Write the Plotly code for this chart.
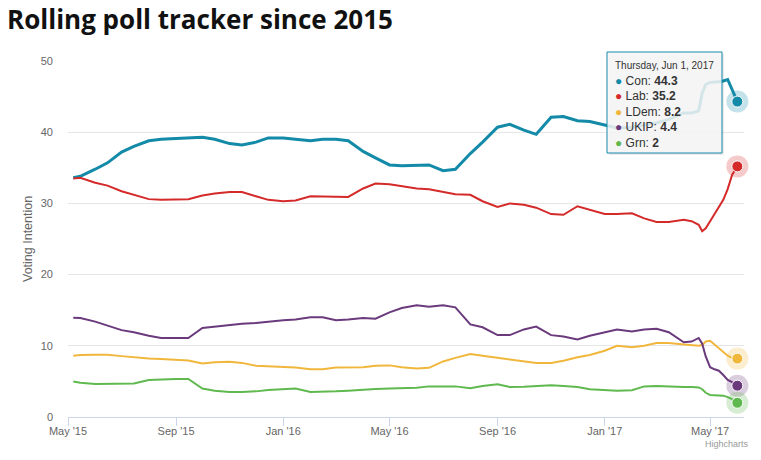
import plotly.graph_objects as go
from datetime import datetime

# ---------------- data ----------------
dates = [
    "2015-05-07", "2015-05-15", "2015-06-01", "2015-06-15", "2015-07-01", "2015-07-15",
    "2015-08-01", "2015-08-15", "2015-09-01", "2015-09-15",
    "2015-10-01", "2015-10-15", "2015-11-01", "2015-11-15", "2015-12-01", "2015-12-15",
    "2016-01-01", "2016-01-15", "2016-02-01", "2016-02-15", "2016-03-01", "2016-03-15",
    "2016-04-01", "2016-04-15",
    "2016-05-01", "2016-05-15", "2016-06-01", "2016-06-15", "2016-07-01", "2016-07-15",
    "2016-08-01", "2016-08-15",
    "2016-09-01", "2016-09-15", "2016-10-01", "2016-10-15", "2016-11-01", "2016-11-15",
    "2016-12-01", "2016-12-15",
    "2017-01-01", "2017-01-15", "2017-02-01", "2017-02-15", "2017-03-01", "2017-03-15",
    "2017-04-01",
    "2017-04-10", "2017-04-18", "2017-04-22", "2017-04-26",
    "2017-05-01", "2017-05-06", "2017-05-11", "2017-05-16", "2017-05-21", "2017-05-26", "2017-06-01",
]

con = [33.6, 33.8, 34.8, 35.7, 37.2, 38.0, 38.8, 39.0, 39.1, 39.2,
       39.3, 39.0, 38.4, 38.2, 38.6, 39.2,
       39.2, 39.0, 38.8, 39.0, 39.0, 38.8,
       37.3, 36.4,
       35.4, 35.3, 35.3, 35.4, 34.6, 34.8,
       37.0, 38.6,
       40.7, 41.1, 40.3, 39.7, 42.1, 42.2,
       41.6, 41.5,
       41.0, 40.6, 40.7, 41.0, 41.3, 41.8,
       42.7,
       42.7, 43.0, 45.5, 46.7,
       47.0, 47.0, 47.1, 47.2, 47.4, 46.0, 44.3]

lab = [33.5, 33.6, 32.9, 32.5, 31.7, 31.2, 30.6, 30.5, 30.5, 30.6,
       31.1, 31.4, 31.6, 31.6, 31.0, 30.5,
       30.3, 30.4, 31.0, 31.0, 30.9, 30.9,
       32.1, 32.8,
       32.7, 32.4, 32.1, 32.0, 31.6, 31.3,
       31.2, 30.3,
       29.5, 30.0, 29.8, 29.4, 28.5, 28.4,
       29.6, 29.1,
       28.5, 28.5, 28.6, 27.9, 27.4, 27.4,
       27.7,
       27.5, 27.0, 26.1, 26.5,
       27.5, 28.5, 29.5, 30.5, 32.0, 34.0, 35.2]

ldem = [8.6, 8.7, 8.75, 8.75, 8.55, 8.35, 8.2, 8.15, 8.0, 7.95,
        7.5, 7.7, 7.75, 7.6, 7.2, 7.1,
        7.0, 6.95, 6.7, 6.7, 6.95, 6.98,
        7.0, 7.2,
        7.25, 7.0, 6.8, 6.9, 7.8, 8.3,
        8.85, 8.6,
        8.3, 8.1, 7.8, 7.6, 7.6, 7.9,
        8.4, 8.7,
        9.3, 10.0, 9.8, 10.0, 10.4, 10.4,
        10.2,
        10.1, 10.0, 10.1, 10.6,
        10.7, 10.2, 9.6, 9.1, 8.6, 8.3, 8.2]

ukip = [13.95, 13.9, 13.4, 12.8, 12.2, 11.9, 11.4, 11.1, 11.05, 11.1,
        12.5, 12.7, 12.9, 13.1, 13.2, 13.4,
        13.6, 13.7, 14.0, 14.0, 13.6, 13.7,
        13.9, 13.8,
        14.7, 15.3, 15.7, 15.5, 15.7, 15.4,
        13.0, 12.6,
        11.5, 11.5, 12.3, 12.7, 11.5, 11.3,
        10.9, 11.4,
        11.9, 12.3, 12.0, 12.3, 12.4, 11.9,
        10.5,
        10.6, 11.1, 10.3, 8.5,
        7.0, 6.7, 6.5, 5.9, 5.2, 4.9, 4.4]

grn = [5.0, 4.8, 4.65, 4.65, 4.65, 4.7, 5.2, 5.3, 5.35, 5.35,
       4.0, 3.7, 3.5, 3.5, 3.6, 3.8,
       3.95, 4.0, 3.5, 3.5, 3.6, 3.7,
       3.85, 3.95,
       4.0, 4.05, 4.1, 4.3, 4.35, 4.3,
       4.05, 4.35,
       4.6, 4.2, 4.25, 4.35, 4.45, 4.35,
       4.2, 3.9,
       3.8, 3.7, 3.75, 4.3, 4.35, 4.25,
       4.2,
       4.2, 4.15, 3.9, 3.4,
       3.1, 3.1, 3.1, 3.0, 2.8, 2.5, 2.0]

series_names = ["Con", "Lab", "LDem", "UKIP", "Grn"]
series_values = [con, lab, ldem, ukip, grn]
series_colors = ["#138aa8", "#d42a2a", "#f1b73c", "#6a3a7d", "#5fb94e"]
series_widths = [3, 2, 2, 2, 2]

x_tick_vals = ["2015-05-01", "2015-09-01", "2016-01-01", "2016-05-01",
               "2016-09-01", "2017-01-01", "2017-05-01"]
x_tick_text = ["May '15", "Sep '15", "Jan '16", "May '16", "Sep '16", "Jan '17", "May '17"]
y_tick_vals = [0, 10, 20, 30, 40, 50]

title_text = "Rolling poll tracker since 2015"
y_title = "Voting Intention"

# ---------------- figure ----------------
def hex_rgba(h, a):
    h = h.lstrip("#")
    return "rgba(%d,%d,%d,%s)" % (int(h[0:2], 16), int(h[2:4], 16), int(h[4:6], 16), a)

fig = go.Figure()
for name, vals, col, w in zip(series_names, series_values, series_colors, series_widths):
    fig.add_trace(go.Scatter(x=dates, y=vals, mode="lines", name=name,
                             line=dict(color=col, width=w), hoverinfo="skip"))
for name, vals, col in zip(series_names, series_values, series_colors):
    fig.add_trace(go.Scatter(x=[dates[-1]], y=[vals[-1]], mode="markers",
                             marker=dict(size=22, color=hex_rgba(col, 0.25), line=dict(width=0)),
                             cliponaxis=False, hoverinfo="skip"))
    fig.add_trace(go.Scatter(x=[dates[-1]], y=[vals[-1]], mode="markers",
                             marker=dict(size=11, color=col, line=dict(width=1, color="white")),
                             cliponaxis=False, hoverinfo="skip"))

# tooltip
last = datetime.strptime(dates[-1], "%Y-%m-%d")
header = last.strftime("%A, %b ") + str(last.day) + last.strftime(", %Y")
lines = ["<span style='font-size:10px'>%s</span>" % header]
for name, vals, col in zip(series_names, series_values, series_colors):
    lines.append("<span style='color:%s'>●</span> %s: <b>%g</b>" % (col, name, vals[-1]))

L, R, T, B = 68, 744, 61, 417
W, H = R - L, B - T
def px(x):
    return (x - L) / W
def py(y):
    return (B - y) / H

fig.add_shape(type="rect", xref="paper", yref="paper",
              x0=px(609), x1=px(724), y0=py(155), y1=py(54),
              fillcolor="rgba(0,0,0,0.08)", line=dict(width=0), layer="above")
fig.add_shape(type="rect", xref="paper", yref="paper",
              x0=px(607), x1=px(722), y0=py(153), y1=py(52),
              fillcolor="rgba(247,247,247,0.85)", line=dict(color=series_colors[0], width=1),
              layer="above")
fig.add_annotation(xref="paper", yref="paper", x=px(613), y=py(58),
                   xanchor="left", yanchor="top", align="left", showarrow=False,
                   text="<br>".join(lines),
                   font=dict(family="Liberation Sans, Arial, sans-serif", size=12, color="#333333"))

# y-axis title
fig.add_annotation(xref="paper", yref="paper", x=px(28), y=0.5, textangle=-90,
                   xanchor="center", yanchor="middle",
                   showarrow=False, text=y_title,
                   font=dict(family="Liberation Sans, Arial, sans-serif", size=12.5, color="#666666"))
# credits
fig.add_annotation(xref="paper", yref="paper", x=px(751), y=py(444),
                   xanchor="right", yanchor="middle", showarrow=False, text="Highcharts",
                   font=dict(family="Liberation Sans, Arial, sans-serif", size=9, color="#999999"))

fig.update_layout(
    width=761, height=460,
    margin=dict(l=L, r=761 - R, t=T, b=460 - B),
    paper_bgcolor="white", plot_bgcolor="white",
    showlegend=False, hovermode=False,
    title=dict(text="<b>%s</b>" % title_text, x=7 / 761, xanchor="left", xref="container",
               y=1 - 20 / 460, yanchor="middle", yref="container",
               font=dict(family="Open Sans, sans-serif", size=26, color="#111111")),
    font=dict(family="Liberation Sans, Arial, sans-serif", size=11, color="#666666"),
)
fig.update_xaxes(type="date", range=["2015-05-01", "2017-06-08 14:00"],
                 tickvals=x_tick_vals, ticktext=x_tick_text,
                 showgrid=False, showline=True, linecolor="#ccd6eb", linewidth=1,
                 ticks="outside", ticklen=8, tickcolor="#ccd6eb", tickwidth=1,
                 ticklabelstandoff=-4,
                 tickfont=dict(size=11, color="#666666"), zeroline=False)
fig.update_yaxes(range=[0, 50], tickvals=y_tick_vals, showgrid=True, gridcolor="#e6e6e6",
                 gridwidth=1, zeroline=False, showline=False, ticks="",
                 ticklabelstandoff=14, tickfont=dict(size=11, color="#666666"))

fig.write_html("out.html", config={"displayModeBar": False},
               post_script="document.body.style.margin='0';document.body.style.overflow='hidden';")
